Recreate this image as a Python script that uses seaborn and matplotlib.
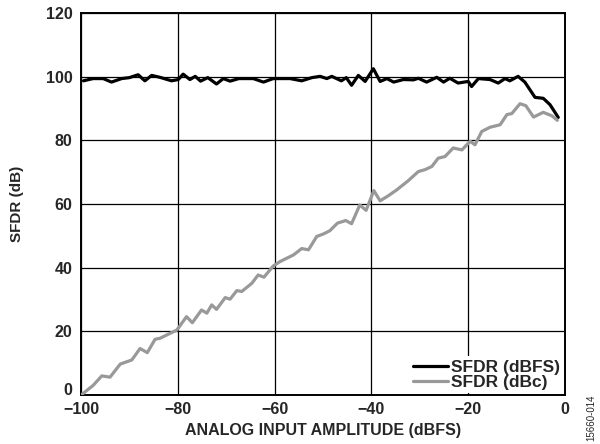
import matplotlib
matplotlib.use("Agg")
import matplotlib.pyplot as plt
import seaborn as sns

# SFDR (dBFS)
dbfs_x = [-99.5, -97.5, -95.4, -93.7, -91.6, -90.0, -88.2, -86.8, -85.4, -83.7,
          -81.3, -79.9, -78.9, -77.5, -76.4, -75.3, -73.8, -72.0, -70.6, -69.2,
          -67.4, -64.4, -62.3, -60.3, -56.8, -54.4, -52.3, -50.6, -49.2, -48.2,
          -46.2, -45.2, -44.1, -42.7, -41.3, -39.6, -38.2, -36.8, -35.4, -33.4,
          -31.3, -30.3, -28.6, -26.5, -25.1, -23.8, -22.1, -20.0, -19.3, -17.9,
          -15.5, -13.8, -12.4, -11.4, -9.7, -8.3, -6.9, -6.2, -4.5, -3.1, -1.4]
dbfs_y = [98.7, 99.4, 99.4, 98.3, 99.4, 99.7, 100.6, 98.7, 100.4, 99.8,
          98.7, 99.1, 100.8, 99.1, 100.1, 98.6, 99.7, 97.7, 99.4, 98.6,
          99.4, 99.4, 98.3, 99.4, 99.4, 98.7, 99.7, 100.1, 99.4, 100.1,
          98.7, 99.7, 97.3, 100.4, 98.5, 102.5, 98.5, 99.4, 98.3, 99.1,
          99.0, 99.5, 98.3, 99.8, 98.3, 99.5, 98.0, 98.5, 96.9, 99.4,
          99.1, 98.0, 99.4, 98.7, 100.1, 98.3, 95.1, 93.5, 93.2, 91.2, 87.2]

# SFDR (dBc)
dbc_x = [-99.8, -97.5, -95.7, -94.0, -91.9, -89.5, -87.8, -86.3, -84.7, -83.7,
         -80.2, -78.2, -77.0, -75.1, -74.0, -73.0, -72.0, -70.2, -69.2, -67.8,
         -66.8, -64.7, -63.4, -62.2, -60.3, -58.9, -56.1, -54.4, -53.0, -51.3,
         -49.9, -48.6, -47.0, -45.3, -44.1, -42.4, -41.1, -39.5, -38.2, -36.6,
         -34.8, -32.4, -30.3, -28.9, -27.5, -26.2, -24.8, -23.1, -21.3, -19.6,
         -18.6, -17.2, -15.5, -13.4, -12.0, -11.0, -9.3, -8.1, -6.5, -4.5,
         -2.7, -1.6]
dbc_y = [0.2, 3.0, 6.0, 5.6, 9.7, 11.0, 14.6, 13.3, 17.5, 17.8,
         20.4, 24.6, 22.7, 26.7, 25.7, 28.3, 26.9, 30.6, 30.1, 32.8,
         32.5, 35.1, 37.7, 37.0, 40.5, 41.9, 44.0, 46.0, 45.6, 49.8,
         50.6, 51.6, 54.0, 54.8, 53.8, 59.7, 58.0, 64.2, 61.0, 62.5,
         64.4, 67.3, 70.2, 70.8, 71.8, 74.4, 74.9, 77.6, 77.0, 79.7,
         78.6, 82.8, 84.1, 84.9, 88.1, 88.4, 91.5, 90.9, 87.3, 88.8,
         87.7, 86.3]

sns.set_style("white")
plt.rcParams['font.family'] = ['Liberation Sans', 'DejaVu Sans']
plt.rcParams['font.weight'] = 'bold'

fig = plt.figure(figsize=(6, 4.44), dpi=100)
ax = fig.add_axes([0.135, 0.1104, 0.8067, 0.8603])

sns.lineplot(x=dbfs_x, y=dbfs_y, color='black', linewidth=2.3, label='SFDR (dBFS)', ax=ax, zorder=3)
sns.lineplot(x=dbc_x, y=dbc_y, color='#999999', linewidth=2.3, label='SFDR (dBc)', ax=ax, zorder=3)

ax.set_xlim(-100, 0)
ax.set_ylim(0, 120)
ax.set_xticks(range(-100, 1, 20))
ax.set_yticks(range(0, 121, 20))
ax.set_xticklabels(['\u2212100', '\u221280', '\u221260', '\u221240', '\u221220', '0'])
ax.grid(True, color='black', linewidth=0.9)
ax.set_axisbelow(True)
for s in ax.spines.values():
    s.set_color('black')
    s.set_linewidth(1.4)
ax.tick_params(direction='in', length=4, width=0.9, color='black', labelsize=11.5)
ax.tick_params(axis='x', pad=5)
ax.tick_params(axis='y', pad=6)
for lbl in ax.get_xticklabels() + ax.get_yticklabels():
    lbl.set_fontweight('bold')
# lift the bottom "0" a little so it clears "-100"
ax.get_yticklabels()[0].set_va('baseline')

ax.set_xlabel('ANALOG INPUT AMPLITUDE (dBFS)', fontsize=11.5, fontweight='bold')
ax.set_ylabel('SFDR (dB)', fontsize=11, fontweight='bold')
ax.xaxis.set_label_coords(0.5, -0.074)
ax.yaxis.set_label_coords(-0.118, 0.5)

leg = ax.legend(loc='lower right', frameon=True, fontsize=12.5, handlelength=2.0,
                handletextpad=0.15, labelspacing=0.0, borderaxespad=0.1, borderpad=0.2)
leg.get_frame().set_facecolor('white')
leg.get_frame().set_edgecolor('none')
leg.get_frame().set_alpha(1)
for t in leg.get_texts():
    t.set_fontweight('bold')

fig.text(0.985, 0.007, '15660-014', rotation=90, fontsize=7, fontweight='normal',
         ha='center', va='bottom')

fig.savefig('out.png', dpi=100)
